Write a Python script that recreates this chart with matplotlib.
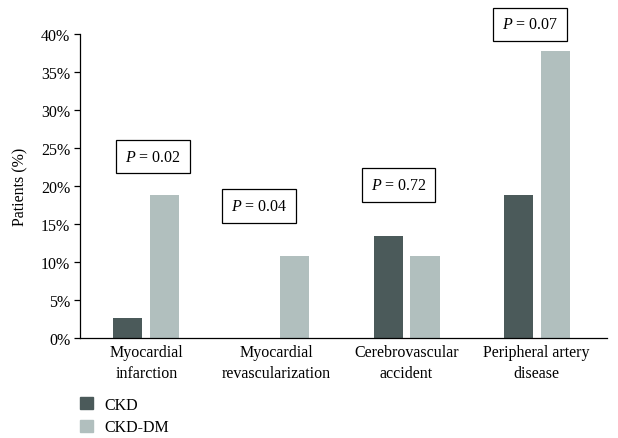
import numpy as np
import matplotlib
matplotlib.use("Agg")
import matplotlib.pyplot as plt
from matplotlib.patches import Patch
from matplotlib.ticker import PercentFormatter

plt.rcParams['font.family'] = 'Liberation Serif'
plt.rcParams['mathtext.fontset'] = 'custom'
plt.rcParams['mathtext.rm'] = 'Liberation Serif'
plt.rcParams['mathtext.it'] = 'Liberation Serif:italic'

categories = ['Myocardial\ninfarction', 'Myocardial\nrevascularization',
              'Cerebrovascular\naccident', 'Peripheral artery\ndisease']
ckd = [2.7, 0.0, 13.5, 18.9]
ckd_dm = [18.9, 10.8, 10.8, 37.8]
p_labels = ['0.02', '0.04', '0.72', '0.07']
p_pos = [(0.05, 23.9), (0.865, 17.4), (1.94, 20.2), (2.95, 41.3)]

c_ckd = '#4b5a5a'
c_dm = '#b1bfbe'
fs = 11.5

fig = plt.figure(figsize=(6.18, 4.39), dpi=100)
ax = fig.add_axes([0.1294, 0.227, 0.982 - 0.1294, 0.9196 - 0.227])

x = np.arange(len(categories))
w = 0.223
ax.bar(x - 0.142, ckd, w, color=c_ckd)
ax.bar(x + 0.142, ckd_dm, w, color=c_dm)

for (px, py), p in zip(p_pos, p_labels):
    ax.text(px, py, '$P$ = ' + p, ha='center', va='center', fontsize=fs,
            clip_on=False,
            bbox=dict(boxstyle='square,pad=0.55', fc='white', ec='black', lw=0.9))

ax.set_xlim(-0.51, 3.54)
ax.set_ylim(0, 40)
ax.set_yticks(np.arange(0, 41, 5))
ax.yaxis.set_major_formatter(PercentFormatter(decimals=0))
ax.set_xticks(x)
ax.set_xticklabels(categories, fontsize=fs, linespacing=1.45)
ax.tick_params(axis='x', length=0, pad=4)
ax.tick_params(axis='y', length=4, width=0.9, labelsize=fs, pad=3)
ax.set_ylabel('Patients (%)', fontsize=fs, labelpad=9)

for s in ['top', 'right']:
    ax.spines[s].set_visible(False)
for s in ['left', 'bottom']:
    ax.spines[s].set_linewidth(0.9)

handles = [Patch(color=c_ckd, label='CKD'), Patch(color=c_dm, label='CKD-DM')]
fig.legend(handles=handles, loc='upper left', bbox_to_anchor=(0.117, 0.112),
           frameon=False, fontsize=fs, handlelength=0.8, handleheight=0.8,
           handletextpad=0.7, labelspacing=0.4, borderpad=0)

fig.savefig('out.png', dpi=100)
